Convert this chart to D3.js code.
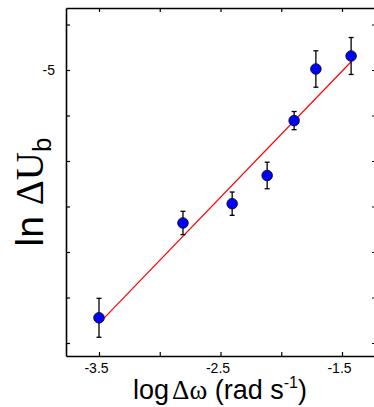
<!DOCTYPE html>
<html><head><meta charset="utf-8">
<script src="https://cdn.jsdelivr.net/npm/d3@7"></script>
<style>body{margin:0;background:#fff}svg{display:block}</style>
</head><body>
<svg id="c" width="374" height="407"></svg>
<script>
const logDw   = [-3.5, -2.809, -2.404, -2.116, -1.894, -1.715, -1.425];
const lnDUb   = [-7.723, -6.681, -6.469, -6.159, -5.556, -4.989, -4.846];
const errors  = [0.214, 0.128, 0.128, 0.146, 0.10, 0.20, 0.203];
const fitSlope = 1.386;
const fitIntercept = -2.934;
const fitRange = [-3.5, -1.425];
const xTicks = [-3.5, -3, -2.5, -2, -1.5];
const xTickLabels = ["-3.5", "", "-2.5", "", "-1.5"];
const yTicks = [-4.5, -5, -5.5, -6, -6.5, -7, -7.5, -8];
const yTickLabels = ["", "-5", "", "", "", "", "", ""];

const svg = d3.select("#c");
const L = 66, R = 376, T = 8, B = 356;
const x = d3.scaleLinear().domain([-3.7716, -1.2202]).range([L, R]);
const y = d3.scaleLinear().domain([-8.1429, -4.3187]).range([B, T]);

const font = "'Liberation Sans', Arial, sans-serif";
const serif = "'Liberation Serif', 'Times New Roman', serif";

function styleAxis(g){
  g.select(".domain").attr("stroke","#000").attr("stroke-width",1.6);
  g.selectAll(".tick line").attr("stroke","#000").attr("stroke-width",1.2);
  g.selectAll(".tick text").attr("font-family",font).attr("font-size",14).attr("fill","#000");
}
svg.append("g").attr("transform",`translate(0,${B})`)
  .call(d3.axisBottom(x).tickValues(xTicks).tickSizeInner(-4).tickSizeOuter(0).tickPadding(7)
    .tickFormat((d,i)=>xTickLabels[i]))
  .call(styleAxis)
  .call(g=>g.selectAll(".tick text").attr("dx",-3));
svg.append("g").attr("transform",`translate(0,${T})`)
  .call(d3.axisTop(x).tickValues(xTicks).tickSizeInner(-4).tickSizeOuter(0).tickFormat(""))
  .call(styleAxis);
svg.append("g").attr("transform",`translate(${L},0)`)
  .call(d3.axisLeft(y).tickValues(yTicks).tickSizeInner(-4).tickSizeOuter(0).tickPadding(11)
    .tickFormat((d,i)=>yTickLabels[i]))
  .call(styleAxis);
svg.append("g").attr("transform",`translate(${R},0)`)
  .call(d3.axisRight(y).tickValues(yTicks).tickSizeInner(-4).tickSizeOuter(0).tickFormat(""))
  .call(styleAxis);

svg.append("line")
  .attr("x1", x(fitRange[0])).attr("y1", y(fitIntercept + fitSlope*fitRange[0]))
  .attr("x2", x(fitRange[1])).attr("y2", y(fitIntercept + fitSlope*fitRange[1]))
  .attr("stroke","#ff0000").attr("stroke-width",1.2);

const data = logDw.map((d,i)=>({x:d, y:lnDUb[i], e:errors[i]}));
const eb = svg.append("g").attr("stroke","#000").attr("stroke-width",1.3);
data.forEach(d=>{
  eb.append("line").attr("x1",x(d.x)).attr("x2",x(d.x)).attr("y1",y(d.y-d.e)).attr("y2",y(d.y+d.e));
  [d.y-d.e, d.y+d.e].forEach(v=>{
    eb.append("line").attr("x1",x(d.x)-2.5).attr("x2",x(d.x)+2.5).attr("y1",y(v)).attr("y2",y(v));
  });
});
svg.append("g").selectAll("circle").data(data).join("circle")
  .attr("cx",d=>x(d.x)).attr("cy",d=>y(d.y)).attr("r",5.3)
  .attr("fill","#0000ff").attr("stroke","#111").attr("stroke-width",0.9);

const xt = svg.append("text").attr("x",220).attr("y",399).attr("text-anchor","middle")
  .attr("font-family",font).attr("font-size",27).attr("fill","#000");
xt.append("tspan").text("log");
xt.append("tspan").attr("font-family",serif).attr("dx",3).text("Δω");
xt.append("tspan").text(" (rad s");
xt.append("tspan").attr("font-size",16).attr("dy",-11).text("-1");
xt.append("tspan").attr("dy",11).text(")");

const yt = svg.append("text").attr("transform","translate(43,192) rotate(-90)").attr("text-anchor","middle")
  .attr("font-family",font).attr("font-size",39).attr("fill","#000");
yt.append("tspan").text("ln ");
yt.append("tspan").attr("font-family",serif).text("ΔU");
yt.append("tspan").attr("font-size",26).attr("dy",8).text("b");
</script>
</body></html>
